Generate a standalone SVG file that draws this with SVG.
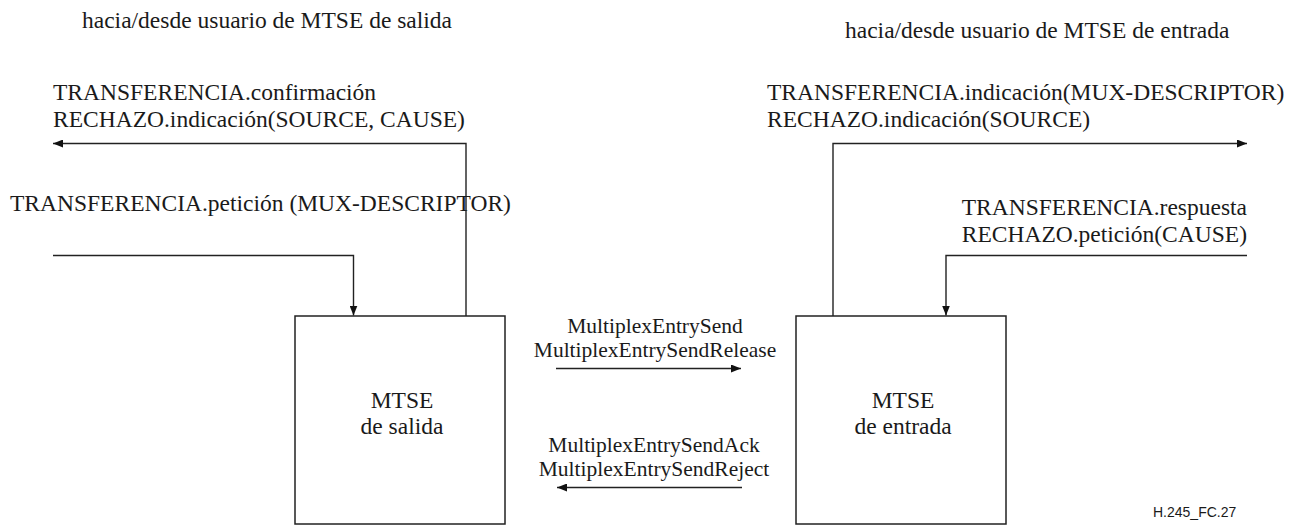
<svg xmlns="http://www.w3.org/2000/svg" width="1303" height="525" viewBox="0 0 1303 525">
<style>
  .t { font-family: "Liberation Serif", Tinos, "Times New Roman", Times, "Nimbus Roman", "DejaVu Serif", serif; font-size: 23.5px; fill: #1a1a1a; }
  .m { font-family: "Liberation Serif", Tinos, "Times New Roman", Times, "Nimbus Roman", "DejaVu Serif", serif; font-size: 21.5px; fill: #1a1a1a; }
  .c { text-anchor: middle; }
  .e { text-anchor: end; }
  .box { fill: #ffffff; stroke: #222222; stroke-width: 1.5; }
  .ln { fill: none; stroke: #222222; stroke-width: 1.4; }
  .fig { font-family: "Liberation Sans", Arial, sans-serif; font-size: 14px; fill: #1a1a1a; }
</style>
<defs>
  <marker id="ah" viewBox="0 0 10 8" refX="10" refY="4" markerWidth="10" markerHeight="8" markerUnits="userSpaceOnUse" orient="auto">
    <path d="M0,0 L10,4 L0,8 z" fill="#111111"/>
  </marker>
</defs>

<text class="t" x="82" y="28">hacia/desde usuario de MTSE de salida</text>
<text class="t" x="845" y="38">hacia/desde usuario de MTSE de entrada</text>

<g id="node-salida">
  <rect class="box" x="295" y="316" width="210" height="208"/>
  <text class="t c" x="402" y="408">MTSE</text>
  <text class="t c" x="402" y="434">de salida</text>
</g>

<g id="node-entrada">
  <rect class="box" x="796" y="316" width="210" height="208"/>
  <text class="t c" x="903" y="408">MTSE</text>
  <text class="t c" x="903" y="434">de entrada</text>
</g>

<g id="connectors">
  <polyline class="ln" points="466,316 466,143.5 53,143.5" marker-end="url(#ah)"/>
  <polyline class="ln" points="53,255.5 353.5,255.5 353.5,315.5" marker-end="url(#ah)"/>
  <polyline class="ln" points="833,316 833,143.5 1247,143.5" marker-end="url(#ah)"/>
  <polyline class="ln" points="1247,255.5 946,255.5 946,315.5" marker-end="url(#ah)"/>
  <line class="ln" x1="556" y1="368.5" x2="741" y2="368.5" marker-end="url(#ah)"/>
  <line class="ln" x1="742" y1="487.5" x2="557" y2="487.5" marker-end="url(#ah)"/>
</g>

<g id="labels">
  <text class="t" x="53" y="100">TRANSFERENCIA.confirmación</text>
  <text class="t" x="53" y="127">RECHAZO.indicación(SOURCE, CAUSE)</text>
  <text class="t" x="10" y="211">TRANSFERENCIA.petición (MUX-DESCRIPTOR)</text>
  <text class="t" x="767" y="100">TRANSFERENCIA.indicación(MUX-DESCRIPTOR)</text>
  <text class="t" x="767" y="127">RECHAZO.indicación(SOURCE)</text>
  <text class="t e" x="1247" y="215">TRANSFERENCIA.respuesta</text>
  <text class="t e" x="1247" y="242">RECHAZO.petición(CAUSE)</text>
  <text class="m c" x="655" y="333">MultiplexEntrySend</text>
  <text class="m c" x="655" y="357">MultiplexEntrySendRelease</text>
  <text class="m c" x="654" y="452">MultiplexEntrySendAck</text>
  <text class="m c" x="654" y="476">MultiplexEntrySendReject</text>
</g>

<text class="fig" x="1153" y="517">H.245_FC.27</text>
</svg>
